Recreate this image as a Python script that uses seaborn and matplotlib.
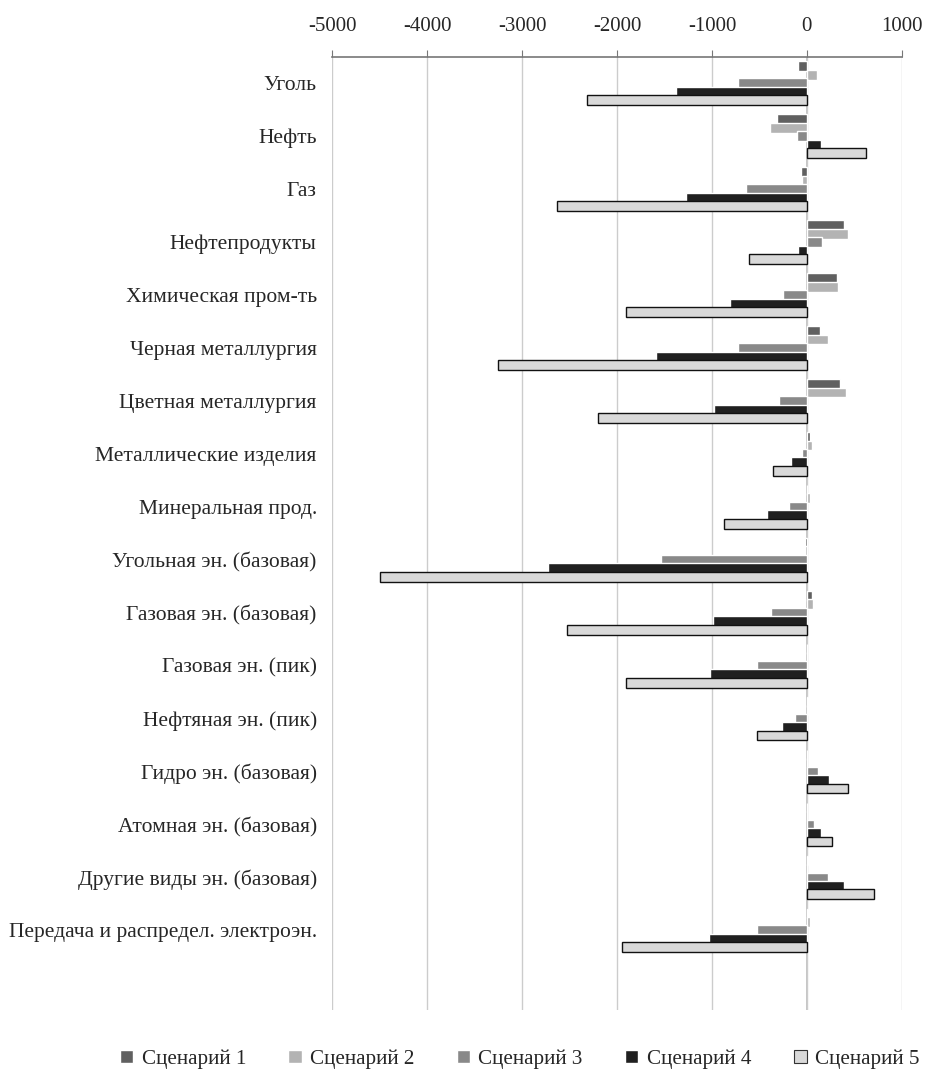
import matplotlib
matplotlib.use("Agg")
import matplotlib.pyplot as plt
import numpy as np
import pandas as pd
import seaborn as sns

categories = ["Уголь", "Нефть", "Газ", "Нефтепродукты", "Химическая пром-ть",
              "Черная металлургия", "Цветная металлургия", "Металлические изделия",
              "Минеральная прод.", "Угольная эн. (базовая)", "Газовая эн. (базовая)",
              "Газовая эн. (пик)", "Нефтяная эн. (пик)", "Гидро эн. (базовая)",
              "Атомная эн. (базовая)", "Другие виды эн. (базовая)",
              "Передача и распредел. электроэн."]
scenarios = ["Сценарий 1", "Сценарий 2", "Сценарий 3", "Сценарий 4", "Сценарий 5"]

s1 = [-96, -320, -64, 389, 313, 136, 345, 28, 4, -24, 52, 4, 16, 4, 4, 16, 16]
s2 = [104, -393, -56, 429, 325, 220, 409, 52, 28, -20, 60, 4, 12, 4, 4, 4, 28]
s3 = [-730, -108, -637, 156, -257, -721, -297, -56, -192, -1535, -381, -521, -128, 112, 72, 220, -521]
s4 = [-1375, 144, -1271, -96, -806, -1587, -974, -172, -425, -2729, -986, -1018, -265, 228, 144, 389, -1026]
s5 = [-2313, 625, -2633, -605, -1904, -3255, -2200, -357, -874, -4497, -2521, -1904, -521, 437, 269, 709, -1944]

colors = ["#606060", "#b3b3b3", "#898989", "#202020", "#d9d9d9"]

df = pd.DataFrame({"category": categories, "Сценарий 1": s1, "Сценарий 2": s2,
                   "Сценарий 3": s3, "Сценарий 4": s4, "Сценарий 5": s5})
long_df = df.melt(id_vars="category", var_name="scenario", value_name="value")

sns.set_style("white")
plt.rcParams["font.family"] = ["Liberation Serif", "DejaVu Serif"]
plt.rcParams["axes.unicode_minus"] = False

fig = plt.figure(figsize=(9.25, 10.72), dpi=100)
ax = fig.add_axes([0.359, 0.058, 0.616, 0.889])

sns.barplot(data=long_df, x="value", y="category", hue="scenario", order=categories,
            hue_order=scenarios, palette=colors, orient="h", width=0.8,
            errorbar=None, ax=ax, legend=True)

# bars in the original overlap a little inside each group
for cont in ax.containers:
    for bar in cont:
        h = bar.get_height()
        bar.set_y(bar.get_y() - h * 0.08)
        bar.set_height(h * 1.16)

# outline the last scenario like the original
for bar in ax.containers[4]:
    bar.set_edgecolor("#111111")
    bar.set_linewidth(1.0)

ax.set_xlim(-5000, 1000)
ax.set_ylim(len(categories) + 0.5, -0.5)
ax.set_xticks(np.arange(-5000, 1001, 1000))
ax.xaxis.tick_top()
ax.tick_params(axis="x", labelsize=15, length=5, color="#777777", direction="out", pad=10)
ax.tick_params(axis="y", labelsize=15.5, length=0, pad=11)
ax.grid(axis="x", color="#cccccc", linewidth=1)
ax.set_axisbelow(True)
ax.axvline(0, color="#bbbbbb", linewidth=1.2, zorder=0.5)
for side in ["left", "right", "bottom"]:
    ax.spines[side].set_visible(False)
ax.spines["top"].set_color("#777777")
ax.spines["top"].set_linewidth(1.2)
ax.set_xlabel("")
ax.set_ylabel("")

handles, labels = ax.get_legend_handles_labels()
ax.get_legend().remove()
handles[4].set_edgecolor("#333333")
handles[4].set_linewidth(0.8)
fig.legend(handles, labels, loc="center", ncol=5, bbox_to_anchor=(0.562, 0.012),
           frameon=False, fontsize=15.2, handlelength=0.63, handleheight=0.63,
           handletextpad=0.4, columnspacing=2.0, borderpad=0.1)

fig.savefig("out.png", dpi=100)
